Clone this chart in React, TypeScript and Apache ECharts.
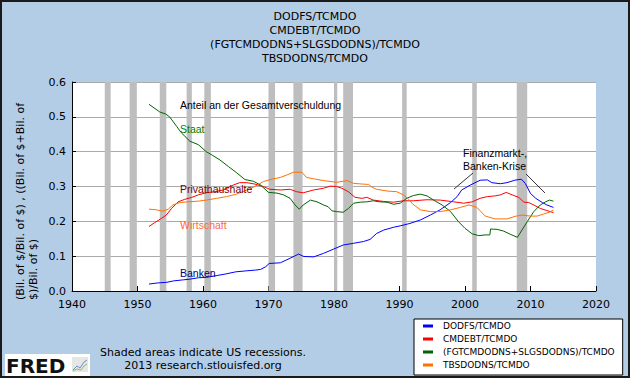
import React, { useEffect, useRef } from 'react';
import * as echarts from 'echarts';

const titleLines = ['DODFS/TCMDO', 'CMDEBT/TCMDO', '(FGTCMDODNS+SLGSDODNS)/TCMDO', 'TBSDODNS/TCMDO'];
const seriesNames = ['DODFS/TCMDO', 'CMDEBT/TCMDO', '(FGTCMDODNS+SLGSDODNS)/TCMDO', 'TBSDODNS/TCMDO'];
const xTicks = [1940, 2020, 10];
const yTicks = [0, 0.6, 0.1];

const recessions = [
  [1945.0, 1945.9], [1948.8, 1949.9], [1953.4, 1954.4], [1957.5, 1958.3], [1960.2, 1961.2],
  [1970.0, 1971.0], [1973.8, 1975.2], [1980.0, 1980.5], [1981.4, 1982.9], [1990.4, 1991.1],
  [2001.1, 2001.8], [2007.9, 2009.5],
];

const banken = [
  [1951.75, 0.020], [1953, 0.023], [1954.5, 0.025], [1955.5, 0.029], [1957, 0.032], [1958, 0.034],
  [1959.3, 0.038], [1960.5, 0.039], [1962, 0.044], [1963.5, 0.049], [1965, 0.055], [1966.7, 0.058],
  [1968, 0.060], [1968.8, 0.062], [1969.6, 0.070], [1970.1, 0.079], [1971.8, 0.081], [1973.3, 0.094],
  [1974.6, 0.106], [1975.4, 0.099], [1976.9, 0.098], [1978.4, 0.108], [1979.9, 0.120], [1981.4, 0.132],
  [1983, 0.137], [1984.5, 0.142], [1985.5, 0.148], [1986.5, 0.165], [1987.6, 0.175], [1989.1, 0.183],
  [1990.1, 0.187], [1991.6, 0.194], [1993.2, 0.204], [1994.7, 0.218], [1996.2, 0.233], [1997.8, 0.254],
  [1998.8, 0.271], [1999.5, 0.290], [2000.8, 0.304], [2002.3, 0.318], [2003.4, 0.319], [2004.1, 0.311],
  [2005.4, 0.308], [2006.4, 0.311], [2007.6, 0.318], [2008.6, 0.321], [2009.2, 0.309], [2010.0, 0.280],
  [2010.8, 0.266], [2011.8, 0.254], [2012.5, 0.247], [2013.5, 0.240],
];

const privat = [
  [1951.75, 0.185], [1952.6, 0.196], [1953.7, 0.209], [1954.4, 0.218], [1955.2, 0.237], [1956.2, 0.256],
  [1957.2, 0.263], [1958.3, 0.269], [1959.3, 0.276], [1960.5, 0.282], [1961.8, 0.285], [1963.1, 0.290],
  [1964.6, 0.304], [1965.6, 0.311], [1966.7, 0.311], [1967.9, 0.307], [1969.2, 0.300], [1970.2, 0.292],
  [1971.8, 0.290], [1973.3, 0.292], [1974.3, 0.285], [1975.3, 0.282], [1976.9, 0.290], [1978.4, 0.295],
  [1979.4, 0.301], [1980.4, 0.300], [1981.2, 0.295], [1982.2, 0.285], [1983.2, 0.269], [1984.3, 0.266],
  [1985.0, 0.269], [1986.0, 0.261], [1987.6, 0.257], [1989.1, 0.255], [1990.6, 0.259], [1992.1, 0.259],
  [1994.2, 0.262], [1996.2, 0.261], [1998.3, 0.256], [1999.8, 0.252], [2001.1, 0.256], [2002.3, 0.266],
  [2003.4, 0.271], [2004.6, 0.273], [2005.4, 0.276], [2006.3, 0.283], [2007.2, 0.276], [2008.2, 0.269],
  [2009.0, 0.255], [2009.7, 0.254], [2010.5, 0.247], [2011.5, 0.237], [2012.5, 0.231], [2013.5, 0.225],
];

const staat = [
  [1951.75, 0.536], [1953.4, 0.514], [1954.3, 0.508], [1954.9, 0.500], [1956.0, 0.472], [1956.7, 0.454],
  [1958.0, 0.430], [1959.3, 0.420], [1960.5, 0.400], [1961.4, 0.390], [1962.6, 0.376], [1963.9, 0.357],
  [1965.1, 0.340], [1966.4, 0.320], [1967.7, 0.315], [1968.8, 0.304], [1970.0, 0.283], [1971.3, 0.281],
  [1972.3, 0.276], [1973.3, 0.266], [1974.05, 0.247], [1974.7, 0.235], [1975.3, 0.247], [1976.4, 0.261],
  [1977.4, 0.256], [1978.4, 0.247], [1979.1, 0.242], [1979.7, 0.230], [1980.4, 0.228], [1981.4, 0.226],
  [1982.2, 0.237], [1983.0, 0.252], [1984.0, 0.255], [1985.0, 0.256], [1986.0, 0.259], [1987.0, 0.256],
  [1988.1, 0.255], [1989.1, 0.249], [1990.1, 0.252], [1991.1, 0.266], [1992.1, 0.274], [1993.2, 0.278],
  [1994.2, 0.273], [1995.2, 0.261], [1996.5, 0.247], [1997.8, 0.228], [1999.0, 0.199], [2000.0, 0.180],
  [2001.1, 0.164], [2002.1, 0.159], [2003.1, 0.161], [2003.8, 0.161], [2003.9, 0.178], [2004.9, 0.177],
  [2005.9, 0.172], [2006.9, 0.163], [2008.0, 0.154], [2008.7, 0.175], [2009.5, 0.199], [2010.5, 0.228],
  [2011.5, 0.247], [2012.3, 0.256], [2012.9, 0.261], [2013.5, 0.258],
];

const wirtschaft = [
  [1951.75, 0.235], [1952.9, 0.233], [1953.9, 0.229], [1954.7, 0.235], [1955.4, 0.247], [1956.5, 0.254],
  [1957.7, 0.256], [1959.3, 0.258], [1960.5, 0.261], [1962.1, 0.266], [1963.6, 0.271], [1965.1, 0.278],
  [1966.7, 0.290], [1967.9, 0.300], [1969.2, 0.314], [1970.5, 0.321], [1971.8, 0.326], [1972.8, 0.333],
  [1973.8, 0.341], [1975.1, 0.341], [1975.8, 0.326], [1976.9, 0.322], [1978.4, 0.317], [1980.4, 0.312],
  [1982.0, 0.317], [1983.0, 0.309], [1984.3, 0.307], [1985.3, 0.306], [1985.8, 0.298], [1986.5, 0.292],
  [1988.1, 0.287], [1989.6, 0.285], [1990.6, 0.276], [1991.4, 0.263], [1992.0, 0.250], [1993.2, 0.233],
  [1994.7, 0.228], [1996.2, 0.228], [1997.8, 0.233], [1999.3, 0.240], [2000.6, 0.247], [2001.8, 0.240],
  [2003.1, 0.215], [2004.6, 0.207], [2006.4, 0.207], [2007.8, 0.215], [2008.7, 0.218], [2010.0, 0.215],
  [2011.0, 0.215], [2012.0, 0.221], [2013.0, 0.227], [2013.5, 0.233],
];

const annotations = [
  { text: 'Anteil an der Gesamtverschuldung', x: 180, y: 105, color: '#000000' },
  { text: 'Staat', x: 180, y: 129, color: '#008000' },
  { text: 'Privathaushalte', x: 180, y: 189, color: '#800000' },
  { text: 'Wirtschaft', x: 180, y: 225, color: '#FF6A40' },
  { text: 'Banken', x: 180, y: 273, color: '#000080' },
  { text: 'Finanzmarkt-,', x: 463, y: 153, color: '#000000' },
  { text: 'Banken-Krise', x: 463, y: 166, color: '#000000' },
];

const yLabelLines = ['(Bil. of $/Bil. of $) , ((Bil. of $+Bil. of', '$)/Bil. of $)'];
const footerLines = ['Shaded areas indicate US recessions.', '2013 research.stlouisfed.org'];

export default function App() {
  const ref = useRef<HTMLDivElement>(null);
  useEffect(() => {
    document.body.style.margin = '0';
    const chart = echarts.init(ref.current!, null, { renderer: 'svg' });
    const colors = ['#0000FF', '#FF0000', '#006400', '#FF7200'];
    const datas = [banken, privat, staat, wirtschaft];
    const dejavu = 'DejaVu Sans';
    const sans = 'Liberation Sans';
    const graphics: any[] = [];
    annotations.forEach((a) => {
      graphics.push({
        type: 'text', x: a.x, y: a.y, z: 50,
        style: { text: a.text, fill: a.color, font: `10.5px "${sans}"`, align: 'left', verticalAlign: 'middle' },
      });
    });
    graphics.push({ type: 'line', z: 50, shape: { x1: 454, y1: 189, x2: 473, y2: 173 }, style: { stroke: '#333', lineWidth: 1 } });
    graphics.push({ type: 'line', z: 50, shape: { x1: 526, y1: 174, x2: 545, y2: 193 }, style: { stroke: '#333', lineWidth: 1 } });
    yLabelLines.forEach((t, i) => {
      graphics.push({
        type: 'text', x: 20.5 + i * 12.5, y: 300, rotation: Math.PI / 2,
        style: { text: t, fill: '#000', font: `11px "${dejavu}"`, align: 'left', verticalAlign: 'middle' },
      });
    });
    footerLines.forEach((t, i) => {
      graphics.push({
        type: 'text', x: 203, y: 352 + i * 13.5,
        style: { text: t, fill: '#000', font: `11px "${dejavu}"`, align: 'center', verticalAlign: 'middle' },
      });
    });
    graphics.push({ type: 'rect', shape: { x: 5, y: 354, width: 85, height: 22 }, style: { fill: '#fff' } });
    graphics.push({
      type: 'text', x: 6, y: 365.5,
      style: { text: 'FRED', fill: '#111', font: `bold 20px "${dejavu}"`, align: 'left', verticalAlign: 'middle' },
    });
    graphics.push({ type: 'rect', shape: { x: 72, y: 357, width: 16, height: 15 }, style: { fill: '#E6E6E6' } });
    graphics.push({ type: 'polyline', shape: { points: [[73, 370], [77, 366], [80, 368], [84, 362], [87, 360]] }, style: { stroke: '#6A8FC8', lineWidth: 1, fill: 'none' } });
    graphics.push({ type: 'polyline', shape: { points: [[73, 371], [77, 369], [81, 370], [84, 366], [87, 364]] }, style: { stroke: '#8CBF6A', lineWidth: 1, fill: 'none' } });
    graphics.push({ type: 'rect', z: 100, shape: { x: 1, y: 1, width: 628, height: 376 }, style: { fill: 'none', stroke: '#1a1a1a', lineWidth: 2 } });

    const series: any[] = [
      {
        name: 'recessions', type: 'line', data: [], z: 1, silent: true,
        markArea: {
          silent: true,
          itemStyle: { color: '#BEBEBE' },
          data: recessions.map((r) => [{ xAxis: r[0] }, { xAxis: r[1] }]),
        },
      },
    ];
    seriesNames.forEach((n, i) => {
      series.push({
        name: n, type: 'line', data: datas[i], showSymbol: false, symbol: 'none', z: 3,
        color: colors[i], lineStyle: { color: colors[i], width: 1 },
      });
    });

    chart.setOption({
      animation: false,
      backgroundColor: '#B4CDE6',
      title: {
        text: titleLines.join('\n'), left: 'center', top: 4,
        textStyle: { fontSize: 11, lineHeight: 14, fontWeight: 'normal', fontFamily: dejavu, color: '#000' },
      },
      legend: {
        data: seriesNames, orient: 'vertical', left: 414, top: 319,
        backgroundColor: '#fff', borderColor: '#000', borderWidth: 1, borderRadius: 0,
        padding: [2, 8, 5, 9], itemWidth: 10, itemHeight: 3, itemGap: 3, icon: 'rect', selectedMode: false,
        textStyle: { fontSize: 9, fontFamily: dejavu, color: '#000', lineHeight: 10, padding: [0, 0, 0, 5] },
      },
      grid: {
        left: 72, top: 82, right: 34, bottom: 87, show: true, backgroundColor: '#fff', borderWidth: 0,
        containLabel: false, outerBoundsMode: 'none',
      },
      xAxis: {
        type: 'value', min: xTicks[0], max: xTicks[1], interval: xTicks[2],
        axisLine: { show: true, lineStyle: { color: '#000', width: 1 } },
        axisTick: { show: true, inside: true, length: 5, lineStyle: { color: '#000' } },
        splitLine: { show: false },
        axisLabel: { color: '#000', fontSize: 11, fontFamily: dejavu, margin: 8, formatter: (v: number) => String(Math.round(v)) },
      },
      yAxis: {
        type: 'value', min: yTicks[0], max: yTicks[1], interval: yTicks[2],
        axisLine: { show: true, lineStyle: { color: '#000', width: 1 } },
        axisTick: { show: true, inside: true, length: 4, lineStyle: { color: '#000' } },
        splitLine: { show: true, lineStyle: { color: '#AAAAAA', width: 1 } },
        axisLabel: { color: '#000', fontSize: 11, fontFamily: dejavu, margin: 6, formatter: (v: number) => v.toFixed(1) },
      },
      graphic: graphics,
      series,
    });
    return () => chart.dispose();
  }, []);
  return <div ref={ref} style={{ width: 630, height: 378 }} />;
}
